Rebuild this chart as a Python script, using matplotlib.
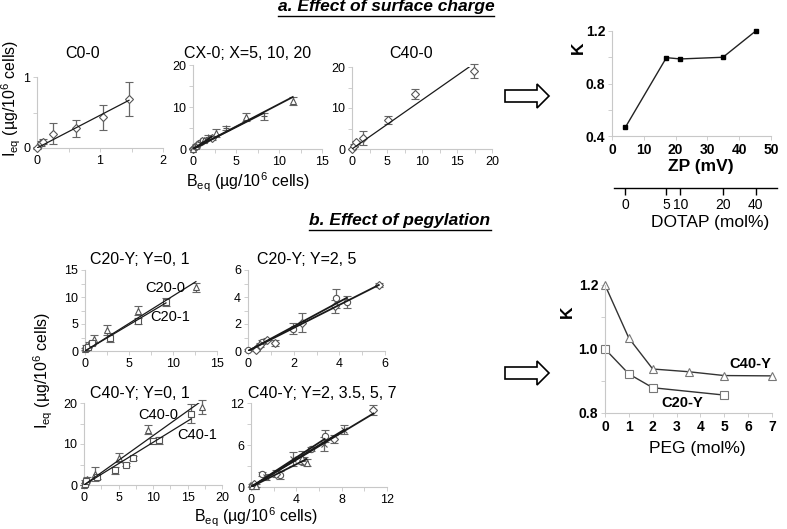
import matplotlib
matplotlib.use("Agg")
import matplotlib.pyplot as plt
from matplotlib.patches import Polygon
from matplotlib.lines import Line2D
import numpy as np

plt.rcParams['font.family'] = ['Liberation Sans', 'DejaVu Sans']
plt.rcParams['mathtext.default'] = 'regular'

W, H = 787, 529

# ---------- a. effect of surface charge (I_eq vs B_eq) ----------
c0_x = [0.0, 0.06, 0.10, 0.26, 0.62, 1.04, 1.46]
c0_y = [0.0, 0.065, 0.09, 0.20, 0.28, 0.43, 0.69]
c0_err = [0.01, 0.03, 0.03, 0.15, 0.12, 0.18, 0.245]

cx5_x = [0.02, 0.10, 0.30, 0.58, 1.00, 2.20]
cx5_y = [0.05, 0.30, 0.60, 1.20, 1.80, 2.60]
cx5_err = [0.1, 0.2, 0.3, 0.3, 0.4, 0.5]
cx10_x = [0.20, 0.78, 1.75, 3.88, 8.20]
cx10_y = [0.50, 1.60, 2.80, 5.00, 7.80]
cx10_err = [0.2, 0.4, 0.6, 0.5, 0.8]
cx20_x = [0.05, 0.35, 1.24, 2.64, 6.15, 11.6]
cx20_y = [0.10, 0.80, 2.20, 3.80, 7.60, 11.5]
cx20_err = [0.1, 0.3, 0.5, 0.9, 1.0, 1.0]

c40_x = [0.0, 0.24, 0.52, 1.57, 5.14, 9.05, 17.4]
c40_y = [0.0, 0.8, 1.6, 2.7, 7.1, 13.5, 19.0]
c40_err = [0.1, 0.3, 0.4, 1.8, 1.0, 1.2, 1.7]

# K vs zeta potential, with DOTAP content
zp = [4.2, 17.1, 21.5, 34.9, 45.2]
k_zp = [0.466, 0.997, 0.987, 1.0, 1.2]
dotap_labels = ['0', '5', '10', '20', '40']

# ---------- b. effect of pegylation ----------
c20_0_x = [0.0, 0.15, 0.40, 1.00, 2.46, 6.05, 12.6]
c20_0_y = [0.4, 0.9, 1.3, 2.2, 3.9, 7.5, 11.8]
c20_0_err = [0.2, 0.3, 0.4, 0.8, 1.0, 0.9, 0.8]
c20_1_x = [0.10, 0.35, 0.85, 2.85, 6.05, 9.2]
c20_1_y = [0.5, 0.8, 1.5, 2.5, 5.55, 9.1]
c20_1_err = [0.2, 0.3, 0.4, 0.8, 0.6, 0.7]

c20_2_x = [0.0, 0.44, 0.62, 1.96, 3.87, 4.32]
c20_2_y = [0.08, 0.30, 0.70, 1.65, 3.90, 3.65]
c20_2_err = [0.05, 0.1, 0.15, 0.4, 0.7, 0.45]
c20_5_x = [0.33, 0.52, 0.84, 1.20, 2.36, 3.80, 5.73]
c20_5_y = [0.10, 0.45, 0.85, 0.60, 2.10, 3.30, 4.90]
c20_5_err = [0.1, 0.15, 0.1, 0.2, 0.7, 0.5, 0.15]

c40_0_x = [0.0, 0.2, 0.5, 1.6, 5.0, 9.3, 17.1]
c40_0_y = [0.0, 0.8, 1.5, 2.7, 6.7, 13.5, 19.0]
c40_0_err = [0.1, 0.4, 0.5, 1.8, 1.2, 1.1, 1.7]
c40_1_x = [0.1, 0.3, 1.9, 4.5, 6.1, 7.1, 10.0, 10.9, 15.5]
c40_1_y = [0.3, 0.9, 2.0, 3.6, 5.0, 6.5, 10.75, 10.9, 17.4]
c40_1_err = [0.2, 0.3, 0.6, 0.8, 0.4, 0.5, 0.4, 0.8, 2.3]

c40_2_x = [0.1, 1.0, 2.6, 5.3, 6.5]
c40_2_y = [0.2, 1.9, 1.7, 5.4, 7.3]
c40_2_err = [0.2, 0.3, 0.6, 0.3, 0.8]
c40_35_x = [0.2, 1.3, 3.7, 6.4, 8.2]
c40_35_y = [0.3, 1.4, 4.0, 6.1, 8.2]
c40_35_err = [0.3, 0.4, 1.0, 1.0, 0.6]
c40_5_x = [0.3, 2.2, 4.7, 7.3, 10.8]
c40_5_y = [0.4, 1.9, 3.7, 6.9, 11.05]
c40_5_err = [0.2, 0.5, 0.6, 0.6, 0.7]
c40_7_x = [0.05, 0.4, 4.5, 4.9]
c40_7_y = [0.1, 0.2, 4.2, 3.5]
c40_7_err = [0.1, 0.2, 0.9, 0.5]

peg40 = [0, 1, 2, 3.5, 5, 7]
k40 = [1.2, 1.034, 0.9375, 0.929, 0.917, 0.916]
peg20 = [0, 1, 2, 5]
k20 = [1.0, 0.922, 0.879, 0.856]

fig = plt.figure(figsize=(7.87, 5.29), dpi=100)


def px_axes(x0, y0, x1, y1):
    return fig.add_axes([x0 / W, 1 - y1 / H, (x1 - x0) / W, (y1 - y0) / H])


def ftext(x, y, s, **kw):
    ha = kw.pop('ha', 'center')
    va = kw.pop('va', 'center')
    return fig.text(x / W, 1 - y / H, s, ha=ha, va=va, **kw)


def excel_axes(ax, xlim, ylim, xt, yt, xm, ym, size=9, weight='normal', xl=None, yl=None):
    ax.set_xlim(xlim)
    ax.set_ylim(ylim)
    ax.set_xticks(xt)
    ax.set_yticks(yt)
    ax.set_xticks(xm, minor=True)
    ax.set_yticks(ym, minor=True)
    ax.set_xticklabels(xl if xl else [f'{v:g}' for v in xt], fontsize=size, fontweight=weight)
    ax.set_yticklabels(yl if yl else [f'{v:g}' for v in yt], fontsize=size, fontweight=weight)
    for s in ['top', 'right']:
        ax.spines[s].set_visible(False)
    for s in ['left', 'bottom']:
        ax.spines[s].set_color('#c8c8c8')
        ax.spines[s].set_linewidth(0.8)
    ax.tick_params(which='both', direction='out', length=3, width=0.6,
                   color='#c8c8c8', pad=2)
    ax.patch.set_alpha(0)


def fit_panel(ax, sets, lw=0.9):
    for x, y, e, m in sets:
        x = np.array(x)
        y = np.array(y)
        k = np.sum(x * y) / np.sum(x * x)
        ax.plot([0, x.max()], [0, k * x.max()], color='#1a1a1a', lw=lw, zorder=4)
        ax.errorbar(x, y, yerr=e, fmt=m, ms=4.5, mfc='white', mec='#555555', mew=0.8,
                    ecolor='#666666', elinewidth=0.9, capsize=2.8, capthick=0.9,
                    zorder=3, clip_on=False)


def block_arrow(xs, xh, xt, yc, hb, hh):
    pts = [(xs, yc - hb), (xh, yc - hb), (xh, yc - hh), (xt, yc),
           (xh, yc + hh), (xh, yc + hb), (xs, yc + hb)]
    pts = [(px / W, 1 - py / H) for px, py in pts]
    fig.add_artist(Polygon(pts, closed=True, fc='white', ec='black', lw=1.2,
                           transform=fig.transFigure))


# ---- panel a1: C0-0
ax = px_axes(37, 77, 163, 148)
fit_panel(ax, [(c0_x, c0_y, c0_err, 'D')])
excel_axes(ax, (0, 2), (0, 1), [0, 1, 2], [0, 1], [0.5, 1.5], [0.5])

# ---- panel a2: CX-0
ax = px_axes(193, 65, 322, 149)
fit_panel(ax, [(cx5_x, cx5_y, cx5_err, 'D'), (cx10_x, cx10_y, cx10_err, '+'),
               (cx20_x, cx20_y, cx20_err, '^')], lw=1.3)
excel_axes(ax, (0, 15), (0, 20), [0, 5, 10, 15], [0, 10, 20], [2.5, 7.5, 12.5], [5, 15])

# ---- panel a3: C40-0
ax = px_axes(352, 67, 492, 149)
fit_panel(ax, [(c40_x, c40_y, c40_err, 'D')])
excel_axes(ax, (0, 20), (0, 20), [0, 5, 10, 15, 20], [0, 10, 20],
           [2.5, 7.5, 12.5, 17.5], [5, 15])

# ---- K vs ZP
ax = px_axes(612, 31, 771, 136)
ax.plot(zp, k_zp, color='#222222', lw=1.0, marker='s', ms=3, mfc='black', mec='black',
        clip_on=False)
excel_axes(ax, (0, 50), (0.4, 1.2), [0, 10, 20, 30, 40, 50], [0.4, 0.8, 1.2],
           [], [0.6, 1.0], size=10, weight='bold')

axd = px_axes(614, 180, 777, 188)
axd.set_xlim((614 - 612) / 3.18, (777 - 612) / 3.18)
axd.set_ylim(0, 1)
for s in ['top', 'right', 'left']:
    axd.spines[s].set_visible(False)
axd.spines['bottom'].set_linewidth(1.0)
axd.set_yticks([])
axd.set_xticks(zp)
axd.set_xticklabels(dotap_labels, fontsize=10)
axd.tick_params(axis='x', direction='out', length=5, width=1.0, pad=2)
axd.patch.set_alpha(0)

# ---- b1: C20-Y; Y=0,1
ax = px_axes(85, 270, 217, 351)
fit_panel(ax, [(c20_0_x, c20_0_y, c20_0_err, '^'), (c20_1_x, c20_1_y, c20_1_err, 's')])
excel_axes(ax, (0, 15), (0, 15), [0, 5, 10, 15], [0, 5, 10, 15],
           [2.5, 7.5, 12.5], [2.5, 7.5, 12.5])

# ---- b2: C20-Y; Y=2,5
ax = px_axes(248, 270, 385, 351)
fit_panel(ax, [(c20_2_x, c20_2_y, c20_2_err, 'o'), (c20_5_x, c20_5_y, c20_5_err, 'D')],
          lw=1.3)
excel_axes(ax, (0, 6), (0, 6), [0, 2, 4, 6], [0, 2, 4, 6], [1, 3, 5], [1, 3, 5])

# ---- b3: C40-Y; Y=0,1
ax = px_axes(84, 403, 222, 485)
fit_panel(ax, [(c40_0_x, c40_0_y, c40_0_err, '^'), (c40_1_x, c40_1_y, c40_1_err, 's')])
excel_axes(ax, (0, 20), (0, 20), [0, 5, 10, 15, 20], [0, 10, 20],
           [2.5, 7.5, 12.5, 17.5], [5, 15])

# ---- b4: C40-Y; Y=2,3.5,5,7
ax = px_axes(251, 403, 387, 487)
fit_panel(ax, [(c40_2_x, c40_2_y, c40_2_err, 'o'), (c40_35_x, c40_35_y, c40_35_err, 'x'),
               (c40_5_x, c40_5_y, c40_5_err, 'D'), (c40_7_x, c40_7_y, c40_7_err, '^')],
          lw=1.3)
excel_axes(ax, (0, 12), (0, 12), [0, 4, 8, 12], [0, 6, 12], [2, 6, 10], [3, 9])

# ---- K vs PEG
ax = px_axes(605, 285, 772, 413)
ax.plot(peg40, k40, color='#333333', lw=1.0, marker='^', ms=6, mfc='white',
        mec='#777777', mew=0.8, clip_on=False)
ax.plot(peg20, k20, color='#333333', lw=1.0, marker='s', ms=6, mfc='white',
        mec='#777777', mew=0.8, clip_on=False)
excel_axes(ax, (0, 7), (0.8, 1.2), list(range(8)), [0.8, 1.0, 1.2], [], [0.9, 1.1],
           size=10, weight='bold', yl=['0.8', '1.0', '1.2'])

# ---- text
lab = r'(µg/10$^{6}$ cells)'
ftext(83, 53, 'C0-0', fontsize=11.5)
ftext(248, 53, 'CX-0; X=5, 10, 20', fontsize=11.5)
ftext(411, 53, 'C40-0', fontsize=11.5)
ftext(248, 182, r'B$_{eq}$ ' + lab, fontsize=11.5)
ftext(11, 98, r'I$_{eq}$ ' + lab, fontsize=11.5, rotation=90)

ftext(140, 260, 'C20-Y; Y=0, 1', fontsize=11.5)
ftext(307, 260, 'C20-Y; Y=2, 5', fontsize=11.5)
ftext(140, 393, 'C40-Y; Y=0, 1', fontsize=11.5)
ftext(322, 393, 'C40-Y; Y=2, 3.5, 5, 7', fontsize=11.5)
ftext(165, 288, 'C20-0', fontsize=10.5)
ftext(170, 317, 'C20-1', fontsize=10.5)
ftext(158, 415, 'C40-0', fontsize=10.5)
ftext(197, 435, 'C40-1', fontsize=10.5)
ftext(256, 517, r'B$_{eq}$ ' + lab, fontsize=11.5)
ftext(43, 370, r'I$_{eq}$ ' + lab, fontsize=11.5, rotation=90)

ftext(578, 48, 'K', fontsize=12.5, fontweight='bold', rotation=90)
ftext(701, 167, 'ZP (mV)', fontsize=12.5, fontweight='bold')
ftext(710, 222, 'DOTAP (mol%)', fontsize=12.5)

ftext(567, 312, 'K', fontsize=12.5, fontweight='bold', rotation=90)
ftext(697, 448, 'PEG (mol%)', fontsize=12.5)
ftext(750, 364, 'C40-Y', fontsize=10.5, fontweight='bold')
ftext(682, 403, 'C20-Y', fontsize=10.5, fontweight='bold')

ta = ftext(386, 7, 'a. Effect of surface charge', fontsize=12.5, fontweight='bold',
           style='italic')
tb = ftext(400, 221, 'b. Effect of pegylation', fontsize=12.5, fontweight='bold',
           style='italic')

block_arrow(505, 537, 549, 96, 6, 12)
block_arrow(505, 537, 549, 373, 6, 12)

# underline the section headings
fig.canvas.draw()
r = fig.canvas.get_renderer()
for t in (ta, tb):
    bb = t.get_window_extent(r)
    yy = (bb.y0 - 1) / fig.bbox.height
    fig.add_artist(Line2D([bb.x0 / fig.bbox.width, bb.x1 / fig.bbox.width], [yy, yy],
                          color='black', lw=1.0, transform=fig.transFigure))

fig.savefig('out.png', dpi=100)
